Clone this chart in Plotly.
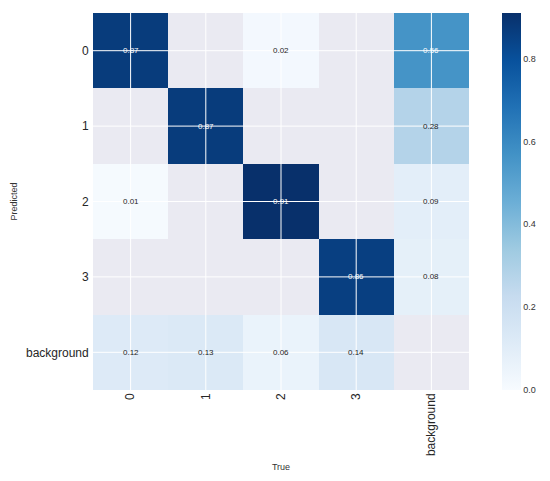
import plotly.graph_objects as go
import plotly.express as px

# confusion matrix, rows = predicted, cols = true (None = empty cell)
true_labels = ["0", "1", "2", "3", "background"]
pred_labels = ["0", "1", "2", "3", "background"]

row_0 = [0.87, None, 0.02, None, 0.56]
row_1 = [None, 0.87, None, None, 0.28]
row_2 = [0.01, None, 0.91, None, 0.09]
row_3 = [None, None, None, 0.86, 0.08]
row_bg = [0.12, 0.13, 0.06, 0.14, None]
matrix = [row_0, row_1, row_2, row_3, row_bg]

cbar_ticks = [0.0, 0.2, 0.4, 0.6, 0.8]

fig = go.Figure()

fig.add_trace(go.Heatmap(
    z=matrix,
    x=true_labels,
    y=pred_labels,
    colorscale=px.colors.sequential.Blues,
    zmin=0,
    zmax=0.91,
    hoverongaps=False,
    colorbar=dict(
        thickness=19,
        len=1.0,
        ypad=0,
        xpad=0,
        x=1.088,
        xanchor="left",
        y=0.5,
        yanchor="middle",
        outlinewidth=0,
        tickvals=cbar_ticks,
        ticktext=[f"{t:.1f}" for t in cbar_ticks],
        ticks="",
        tickfont=dict(size=9, color="#333333"),
    ),
))

# white grid lines drawn on top of the cells (seaborn style)
for lab in true_labels:
    fig.add_vline(x=lab, line_color="white", line_width=1, layer="above")
for lab in pred_labels:
    fig.add_hline(y=lab, line_color="white", line_width=1, layer="above")

# cell value labels
for i, row in enumerate(matrix):
    for j, v in enumerate(row):
        if v is None:
            continue
        fig.add_annotation(
            x=true_labels[j], y=pred_labels[i],
            text=f"{v:.2f}",
            showarrow=False,
            font=dict(size=8, color="white" if v > 0.5 else "#262626"),
        )

# page body has an 8px margin, so the figure is sized to fit the window
fig.update_layout(
    width=542,
    height=473,
    margin=dict(l=85, r=81, t=5, b=91, autoexpand=False),
    paper_bgcolor="white",
    plot_bgcolor="#eaeaf2",
    font=dict(family="Liberation Sans, Arial, sans-serif", color="#262626"),
    showlegend=False,
)

fig.update_xaxes(
    title=dict(text="True", font=dict(size=9, color="#333333"), standoff=8),
    tickangle=-90,
    tickfont=dict(size=12, color="#262626"),
    showgrid=False,
    zeroline=False,
    ticks="",
    automargin=False,
    range=[-0.5, 4.5],
)
fig.update_yaxes(
    title=dict(text="Predicted", font=dict(size=9, color="#333333"), standoff=6),
    autorange="reversed",
    tickfont=dict(size=12, color="#262626"),
    showgrid=False,
    zeroline=False,
    ticks="",
    automargin=False,
    ticksuffix=" ",
)

fig.write_html("out.html")
